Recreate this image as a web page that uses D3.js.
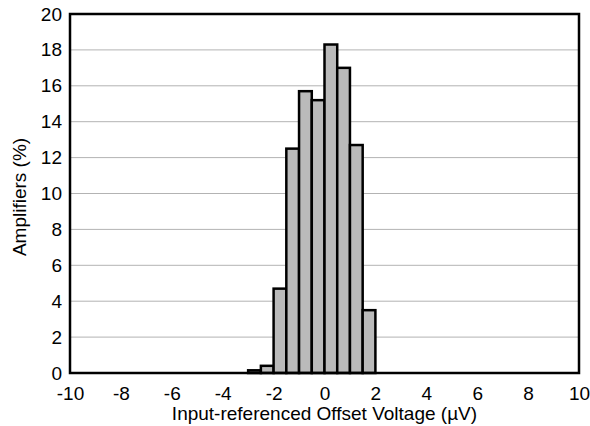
<!DOCTYPE html>
<html>
<head>
<meta charset="utf-8">
<script src="https://cdn.jsdelivr.net/npm/d3@7"></script>
<style>
  body { margin: 0; background: #fff; }
  text { font-family: "Liberation Sans", Arial, sans-serif; fill: #000; }
</style>
</head>
<body>
<svg id="chart" width="590" height="426"></svg>
<script>
// histogram bins (left edge, µV) and share of amplifiers (%)
const binStarts = [-3, -2.5, -2, -1.5, -1, -0.5, 0, 0.5, 1, 1.5];
const percents = [0.15, 0.4, 4.7, 12.5, 15.7, 15.2, 18.3, 17.0, 12.7, 3.5];
const binWidth = 0.5;
const xTicks = [-10, -8, -6, -4, -2, 0, 2, 4, 6, 8, 10];
const yTicks = [0, 2, 4, 6, 8, 10, 12, 14, 16, 18, 20];

const svg = d3.select("#chart");
const plotL = 70, plotR = 579, plotT = 14, plotB = 373;

const x = d3.scaleLinear().domain([-10, 10]).range([plotL, plotR]);
const y = d3.scaleLinear().domain([0, 20]).range([plotB, plotT]);

// grid
svg.append("g")
  .selectAll("line")
  .data(yTicks.slice(1, -1))
  .join("line")
  .attr("x1", plotL).attr("x2", plotR)
  .attr("y1", d => y(d)).attr("y2", d => y(d))
  .attr("stroke", "#b3b3b3")
  .attr("stroke-width", 1);

// bars
svg.append("g")
  .selectAll("rect")
  .data(binStarts)
  .join("rect")
  .attr("x", d => x(d))
  .attr("width", d => x(d + binWidth) - x(d))
  .attr("y", (d, i) => y(percents[i]))
  .attr("height", (d, i) => y(0) - y(percents[i]))
  .attr("fill", "#bababa")
  .attr("stroke", "#000")
  .attr("stroke-width", 2.5);

// frame
svg.append("rect")
  .attr("x", plotL).attr("y", plotT)
  .attr("width", plotR - plotL).attr("height", plotB - plotT)
  .attr("fill", "none")
  .attr("stroke", "#000")
  .attr("stroke-width", 2.5);

// axes (plain hyphen for negatives, like the original)
const fmt = d => String(d);

const xAxis = svg.append("g")
  .attr("transform", `translate(0,${plotB})`)
  .call(d3.axisBottom(x).tickValues(xTicks).tickSize(0).tickPadding(13.5).tickFormat(fmt));
xAxis.select(".domain").remove();
xAxis.selectAll("text").attr("font-size", 19).style("font-family", "Liberation Sans, Arial, sans-serif");

const yAxis = svg.append("g")
  .attr("transform", `translate(${plotL},0)`)
  .call(d3.axisLeft(y).tickValues(yTicks).tickSize(0).tickPadding(8).tickFormat(fmt));
yAxis.select(".domain").remove();
yAxis.selectAll("text").attr("font-size", 19).style("font-family", "Liberation Sans, Arial, sans-serif");

// axis titles
svg.append("text")
  .attr("x", (plotL + plotR) / 2)
  .attr("y", 420)
  .attr("text-anchor", "middle")
  .attr("font-size", 19)
  .text("Input-referenced Offset Voltage (µV)");

svg.append("text")
  .attr("transform", `translate(25.5,197) rotate(-90)`)
  .attr("text-anchor", "middle")
  .attr("font-size", 19)
  .text("Amplifiers (%)");
</script>
</body>
</html>
